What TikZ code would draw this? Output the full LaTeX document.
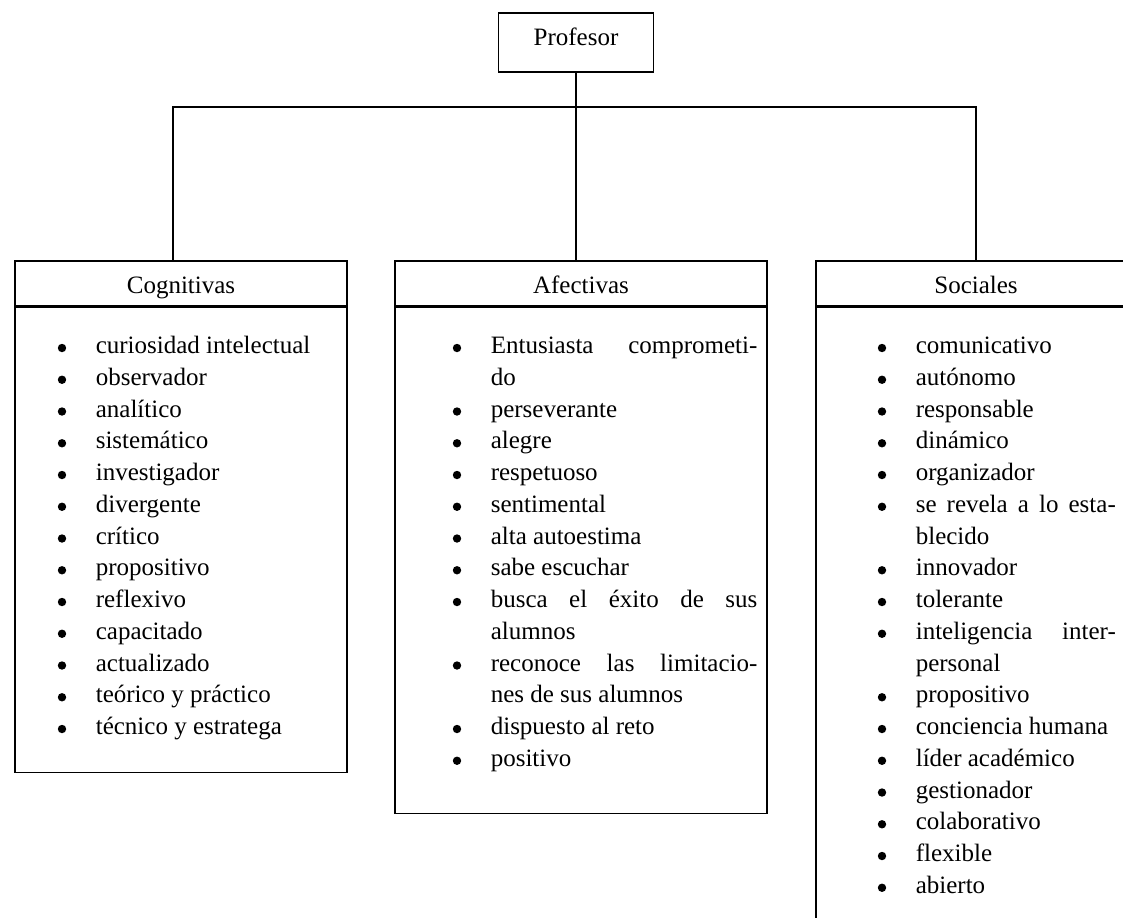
\documentclass[tikz,border=0pt]{standalone}
\usepackage{fontspec}
\setmainfont{Liberation Serif}
\newlength\jw
\newcommand\jl[1]{\makebox[\jw][s]{#1}}

\begin{document}
\begin{tikzpicture}[x=.5pt,y=-.5pt,line width=.8pt,
  every node/.style={font=\fontsize{12.5}{15.85}\selectfont},
  hdr/.style={draw,inner sep=0pt,minimum height=22.5pt,text height=10pt,text depth=0pt},
  item/.style={anchor=base west,inner sep=0pt},
  dot/.style={circle,fill=black,inner sep=0pt,minimum size=4.2pt}]

\useasboundingbox (0,0) rectangle (1123,917);
\clip (0,0) rectangle (1123,917);

\node[hdr,minimum width=77.5pt,minimum height=29.5pt,text height=7.5pt,text depth=5pt] (prof) at (576,42.5) {Profesor};
\coordinate (bus) at (576,107);

\node[hdr,minimum width=166pt] (cog) at (181,283.5) {Cognitivas};
\node[hdr,minimum width=186pt] (afe) at (581,283.5) {Afectivas};
\node[hdr,minimum width=160pt] (soc) at (976,283.5) {Sociales};

\node[hdr,minimum width=166pt,minimum height=232.5pt,anchor=north] (cogb) at (cog.south) {};
\node[hdr,minimum width=186pt,minimum height=253pt,anchor=north] (afeb) at (afe.south) {};
\node[hdr,minimum width=160pt,minimum height=350pt,anchor=north] (socb) at (soc.south) {};

\draw (prof.south) -- (prof.south |- afe.north);
\draw ([xshift=-4pt]cog.north) |- (bus) -| (soc.north);

\foreach \t [count=\i from 0] in {curiosidad intelectual, observador, analítico,
  sistemático, investigador, divergente, crítico, propositivo, reflexivo,
  capacitado, actualizado, teórico y práctico, técnico y estratega}
{
  \node[dot] (cb\i) at (62,{348+31.75*\i}) {};
  \node[item] (ct\i) at (95,{353.5+31.75*\i}) {\t};
}

\setlength\jw{133.3pt}
\foreach \b/\t [count=\i from 0] in {1/{\jl{Entusiasta comprometi-}}, 0/do,
  1/perseverante, 1/alegre, 1/respetuoso, 1/sentimental, 1/alta autoestima,
  1/sabe escuchar, 1/{\jl{busca el éxito de sus}}, 0/alumnos,
  1/{\jl{reconoce las limitacio-}}, 0/nes de sus alumnos,
  1/dispuesto al reto, 1/positivo}
{
  \ifnum\b=1 \node[dot] (ab\i) at (457,{348+31.75*\i}) {};\fi
  \node[item] (at\i) at (490,{353.5+31.75*\i}) {\t};
}

\setlength\jw{100pt}
\foreach \b/\t [count=\i from 0] in {1/comunicativo, 1/autónomo, 1/responsable,
  1/dinámico, 1/organizador, 1/{\jl{se revela a lo esta-}}, 0/blecido,
  1/innovador, 1/tolerante, 1/{\jl{inteligencia inter-}}, 0/personal,
  1/propositivo, 1/conciencia humana, 1/líder académico, 1/gestionador,
  1/colaborativo, 1/flexible, 1/abierto}
{
  \ifnum\b=1 \node[dot] (sb\i) at (882,{348+31.75*\i}) {};\fi
  \node[item] (st\i) at (915,{353.5+31.75*\i}) {\t};
}

\end{tikzpicture}
\end{document}
